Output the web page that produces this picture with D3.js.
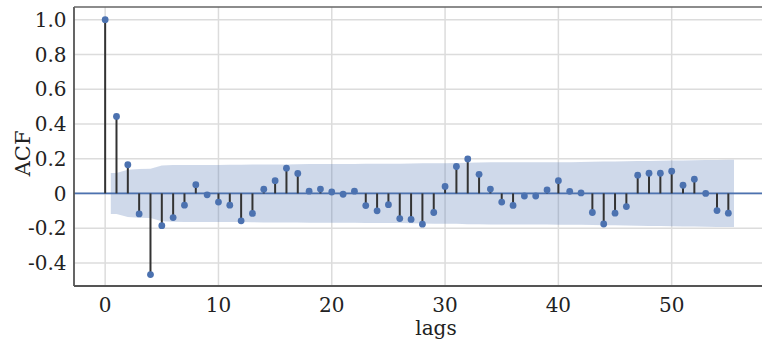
<!DOCTYPE html>
<html>
<head>
<meta charset="utf-8">
<script src="https://cdn.jsdelivr.net/npm/d3@7"></script>
<style>
  html, body { margin: 0; padding: 0; background: #fff; }
  svg { display: block; }
  text { font-family: "DejaVu Serif", serif; fill: #222; }
</style>
</head>
<body>
<svg id="chart" width="762" height="344"></svg>
<script>
// Autocorrelation values for lags 0..55
const lags = d3.range(0, 56);
const acf = [
  1.0, 0.443, 0.165, -0.118, -0.467, -0.186, -0.139, -0.068, 0.05, -0.008,
  -0.05, -0.068, -0.158, -0.115, 0.024, 0.073, 0.145, 0.115, 0.013, 0.025,
  0.008, -0.005, 0.013, -0.07, -0.10, -0.065, -0.145, -0.15, -0.177, -0.11,
  0.04, 0.155, 0.198, 0.11, 0.025, -0.05, -0.069, -0.015, -0.015, 0.02,
  0.073, 0.012, 0.003, -0.11, -0.176, -0.114, -0.076, 0.105, 0.116, 0.116,
  0.128, 0.047, 0.082, 0.0, -0.099, -0.114
];
// Half-width of the 95% confidence band at lags 1..55
const bandHalfWidth = [
  0.118, 0.136, 0.140, 0.142, 0.160, 0.163, 0.164, 0.164, 0.164, 0.164,
  0.165, 0.165, 0.166, 0.167, 0.167, 0.167, 0.168, 0.169, 0.169, 0.169,
  0.169, 0.169, 0.170, 0.171, 0.171, 0.171, 0.172, 0.173, 0.174, 0.174,
  0.175, 0.177, 0.178, 0.179, 0.179, 0.179, 0.179, 0.179, 0.179, 0.180,
  0.180, 0.181, 0.182, 0.183, 0.184, 0.185, 0.186, 0.187, 0.188, 0.189,
  0.190, 0.191, 0.192, 0.193, 0.194
];
const xTicks = [0, 10, 20, 30, 40, 50];
const yTicks = [-0.4, -0.2, 0, 0.2, 0.4, 0.6, 0.8, 1.0];
const yTickLabels = ["-0.4", "-0.2", "0", "0.2", "0.4", "0.6", "0.8", "1.0"];

const svg = d3.select("#chart");
const plotLeft = 74, plotRight = 759.5, plotTop = 7, plotBottom = 286;

const x = d3.scaleLinear().domain([-2.75, 57.75]).range([plotLeft, plotRight]);
const y = d3.scaleLinear().domain([-0.533, 1.073]).range([plotBottom, plotTop]);

const blue = "#4c72b0";

// grid
const grid = svg.append("g");
grid.selectAll("line.vx").data(xTicks).join("line")
  .attr("x1", d => x(d)).attr("x2", d => x(d))
  .attr("y1", plotTop).attr("y2", plotBottom)
  .attr("stroke", "#dcdcdc").attr("stroke-width", 1.5);
grid.selectAll("line.hy").data(yTicks).join("line")
  .attr("x1", plotLeft).attr("x2", 762)
  .attr("y1", d => y(d)).attr("y2", d => y(d))
  .attr("stroke", "#dcdcdc").attr("stroke-width", 1.5);

// confidence band
const bandPts = bandHalfWidth.map((h, i) => ({ lag: i + 1, h }));
bandPts.unshift({ lag: 0.5, h: bandHalfWidth[0] });
bandPts.push({ lag: 55.5, h: bandHalfWidth[bandHalfWidth.length - 1] });
svg.append("path")
  .datum(bandPts)
  .attr("d", d3.area().x(d => x(d.lag)).y0(d => y(-d.h)).y1(d => y(d.h)))
  .attr("fill", blue).attr("fill-opacity", 0.27);

// zero line
svg.append("line")
  .attr("x1", plotLeft).attr("x2", 762)
  .attr("y1", y(0)).attr("y2", y(0))
  .attr("stroke", blue).attr("stroke-width", 1.6);

// stems
const pts = lags.map((l, i) => ({ lag: l, v: acf[i] }));
svg.append("g").selectAll("line").data(pts).join("line")
  .attr("x1", d => x(d.lag)).attr("x2", d => x(d.lag))
  .attr("y1", y(0)).attr("y2", d => y(d.v))
  .attr("stroke", "#333").attr("stroke-width", 2);
svg.append("g").selectAll("circle").data(pts).join("circle")
  .attr("cx", d => x(d.lag)).attr("cy", d => y(d.v))
  .attr("r", 3.4).attr("fill", blue);

// frame
svg.append("line").attr("x1", plotLeft).attr("x2", plotLeft).attr("y1", plotTop).attr("y2", plotBottom)
  .attr("stroke", "#555").attr("stroke-width", 1.8);
svg.append("line").attr("x1", plotLeft).attr("x2", 762).attr("y1", plotBottom).attr("y2", plotBottom)
  .attr("stroke", "#555").attr("stroke-width", 1.8);
svg.append("line").attr("x1", plotLeft).attr("x2", 762).attr("y1", plotTop).attr("y2", plotTop)
  .attr("stroke", "#666").attr("stroke-width", 1.5);

// y tick labels
svg.append("g").selectAll("text").data(yTicks).join("text")
  .attr("x", 66.5).attr("y", d => y(d))
  .attr("dy", "0.36em")
  .attr("text-anchor", "end")
  .attr("font-size", 20)
  .text((d, i) => yTickLabels[i]);

// x tick labels
svg.append("g").selectAll("text").data(xTicks).join("text")
  .attr("x", d => x(d)).attr("y", 312)
  .attr("text-anchor", "middle")
  .attr("font-size", 20)
  .text(d => d);

// axis titles (the axes box continues past the right edge, so the x title sits right of centre)
svg.append("text")
  .attr("x", 436).attr("y", 335)
  .attr("text-anchor", "middle")
  .attr("font-size", 20)
  .text("lags");
svg.append("text")
  .attr("transform", `translate(30, ${y(0.23)}) rotate(-90)`)
  .attr("text-anchor", "middle")
  .attr("font-size", 21)
  .text("ACF");
</script>
</body>
</html>
